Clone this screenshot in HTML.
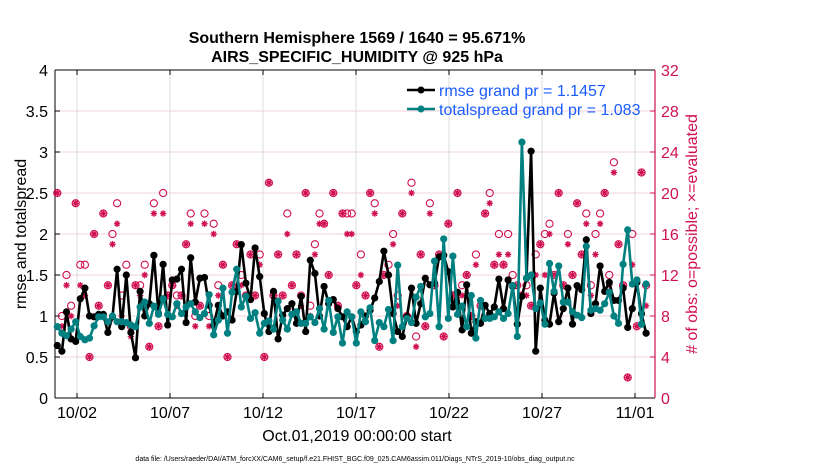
<!DOCTYPE html>
<html><head><meta charset="utf-8"><style>
html,body{margin:0;padding:0;background:#fff;}
svg{display:block;font-family:"Liberation Sans",Arial,sans-serif;}
</style></head><body>
<svg id="chart" width="830" height="470" viewBox="0 0 830 470" xmlns="http://www.w3.org/2000/svg">
<g id="grid"></g>
<g id="axes"></g>
<g id="obs"></g>
<g id="lines"></g>
<text x="357" y="43" text-anchor="middle" font-size="16" font-weight="bold">Southern Hemisphere 1569 / 1640 = 95.671%</text>
<text x="357" y="62" text-anchor="middle" font-size="16" font-weight="bold">AIRS_SPECIFIC_HUMIDITY @ 925 hPa</text>
<text transform="translate(26,234) rotate(-90)" text-anchor="middle" font-size="16">rmse and totalspread</text>
<text transform="translate(697,234) rotate(-90)" text-anchor="middle" font-size="16" fill="#d0104f"># of obs: o=possible; ×=evaluated</text>
<text x="357" y="441" text-anchor="middle" font-size="16">Oct.01,2019 00:00:00 start</text>
<text x="355" y="461" text-anchor="middle" font-size="7">data file: /Users/raeder/DAI/ATM_forcXX/CAM6_setup/f.e21.FHIST_BGC.f09_025.CAM6assim.011/Diags_NTrS_2019-10/obs_diag_output.nc</text>
<g>
 <g>
  <line x1="407" y1="90" x2="435" y2="90" stroke="#000" stroke-width="2.5"/>
  <circle cx="421" cy="90" r="3.5" fill="#000"/>
  <text x="439" y="96" font-size="16" fill="#1a5cff">rmse grand pr = 1.1457</text>
 </g>
 <g>
  <line x1="407" y1="109" x2="435" y2="109" stroke="#008080" stroke-width="2.5"/>
  <circle cx="421" cy="109" r="3.5" fill="#008080"/>
  <text x="439" y="115" font-size="16" fill="#1a5cff">totalspread grand pr = 1.083</text>
 </g>
</g>
</svg>
<script>
const rmse = [0.64,0.57,1.05,0.72,0.69,1.21,1.34,1.00,0.99,1.02,1.02,0.80,0.99,1.57,0.87,1.50,0.80,0.49,1.30,1.00,1.15,1.74,1.03,1.63,0.89,1.44,1.45,1.57,0.92,1.71,1.17,1.46,
1.47,1.13,0.89,1.13,1.00,1.05,0.95,1.30,1.87,1.40,1.20,1.83,1.48,1.03,0.81,1.30,0.72,1.01,1.09,1.15,0.91,1.24,0.81,1.68,1.52,1.00,1.36,1.15,1.20,1.09,0.99,0.87,
0.99,0.81,0.89,1.00,1.07,1.22,1.42,1.79,1.50,1.03,0.81,0.75,0.99,1.34,0.91,1.15,1.46,1.38,1.40,1.72,1.74,1.54,1.11,1.29,0.83,1.38,0.79,0.93,0.91,1.13,1.03,1.11,1.45,
1.09,1.44,1.36,0.90,1.24,1.46,3.01,0.57,1.34,0.95,0.90,1.28,0.93,1.09,1.34,0.90,1.37,1.32,1.93,1.03,1.15,1.61,1.30,1.41,1.19,1.19,1.34,0.86,1.09,1.41,1.03,0.79];
const spread = [0.87,0.79,0.76,0.84,0.93,0.75,0.71,0.73,0.88,0.99,0.99,0.93,1.00,0.93,0.93,0.92,0.89,0.87,1.11,1.17,0.91,1.12,1.02,1.21,1.02,0.99,1.15,1.03,1.11,1.15,1.05,0.98,
1.03,1.26,0.77,0.95,1.34,0.79,1.29,1.57,1.11,1.24,0.97,1.04,0.79,0.91,0.94,0.84,1.18,0.95,0.84,1.02,1.05,0.91,0.91,0.99,0.92,1.09,0.84,1.19,0.80,0.99,0.67,1.05,
0.99,0.67,1.05,0.93,1.10,0.70,0.92,0.87,1.08,0.70,1.62,0.87,0.97,0.92,1.23,1.36,0.99,1.03,1.67,0.87,1.94,0.97,1.73,1.02,1.12,0.87,1.25,0.73,1.19,0.97,0.97,0.99,1.05,
0.97,1.03,1.37,0.75,3.12,1.46,1.50,1.09,1.16,0.90,1.64,1.30,1.61,1.17,1.17,1.05,1.01,0.98,1.85,1.07,1.09,1.07,1.15,1.29,1.00,0.91,1.63,2.05,1.39,1.44,0.90,1.39];
const nPossible = [20,8,12,9,19,13,13,4,16,9,18,11,16,19,10,13,7,11,11,13,5,19,7,20,10,11,10,10,15,18,8,9,
18,8,17,11,13,4,11,15,12,10,14,10,14,4,21,10,14,10,18,11,14,10,20,9,15,18,17,12,20,9,18,18,
18,11,14,10,20,19,5,12,13,16,10,18,8,21,6,14,7,19,11,14,6,17,10,20,11,12,8,14,9,18,20,13,16,
13,16,12,11,10,11,9,14,15,16,17,12,20,11,16,12,19,14,18,11,16,18,20,12,23,15,11,2,16,7,22,11];
const nEvaluated = [20,7,11,8,19,11,10,4,16,9,18,11,15,17,8,12,6,11,10,12,5,18,7,18,10,11,9,10,15,17,7,9,
17,7,16,10,13,4,11,15,11,10,14,10,13,4,21,10,14,10,16,11,14,9,20,8,14,17,17,12,20,9,18,16,
16,11,12,10,20,18,5,12,12,15,9,18,8,20,5,14,7,18,11,14,6,17,10,20,10,12,8,13,9,18,19,13,14,
13,14,11,11,10,10,9,12,15,12,16,12,20,11,15,12,19,14,17,10,14,17,20,11,22,15,11,2,13,7,22,9];
const yTicks = [0,0.5,1,1.5,2,2.5,3,3.5,4];
const yTickLabels = ["0","0.5","1","1.5","2","2.5","3","3.5","4"];
const y2Ticks = [0,4,8,12,16,20,24,28,32];
const xTickDays = [1,6,11,16,21,26,31];
const xTickLabels = ["10/02","10/07","10/12","10/17","10/22","10/27","11/01"];

const NS="http://www.w3.org/2000/svg";
const L=55,R=655,T=70,B=398;
const dayPx=18.6, day0X=58.4;
function xDay(d){return day0X+d*dayPx;}
function xIdx(i){return 57.3+i*4.6;}
function yVal(v){return B-(v/4)*(B-T);}
function yCount(c){return B-(c/32)*(B-T);}
function mk(tag,attrs,parent){const e=document.createElementNS(NS,tag);for(const k in attrs)e.setAttribute(k,attrs[k]);parent.appendChild(e);return e;}
const grid=document.getElementById('grid'),axes=document.getElementById('axes'),obs=document.getElementById('obs'),lines=document.getElementById('lines');

yTicks.forEach((v,i)=>{
 if(v>0&&v<4){const g=mk('line',{x1:L,x2:R,y1:yVal(v),y2:yVal(v),stroke:'#f2d3de','stroke-width':1},grid);
 
 }
 const t=mk('text',{x:L-7,y:yVal(v)+6,'text-anchor':'end','font-size':16},axes);t.textContent=yTickLabels[i];
 
 
 mk('line',{x1:L,x2:L+5,y1:yVal(v),y2:yVal(v),stroke:'#000'},axes);
});
xTickDays.forEach((d,i)=>{
 const x=xDay(d);
 const g=mk('line',{x1:x,x2:x,y1:T,y2:B,stroke:'#dcdcdc','stroke-width':1},grid);
 
 
 mk('line',{x1:x,x2:x,y1:B,y2:B-5,stroke:'#000'},axes);
 mk('line',{x1:x,x2:x,y1:T,y2:T+5,stroke:'#000'},axes);
 const t=mk('text',{x:x,y:B+20,'text-anchor':'middle','font-size':16},axes);t.textContent=xTickLabels[i];
 
 
});
y2Ticks.forEach(c=>{
 mk('line',{x1:R,x2:R-5,y1:yCount(c),y2:yCount(c),stroke:'#d0104f'},axes);
 const t=mk('text',{x:R+6,y:yCount(c)+6,'font-size':16,fill:'#d0104f'},axes);t.textContent=c;
 
 
});
mk('line',{x1:L,x2:R,y1:B,y2:B,stroke:'#000','stroke-width':1},axes);
mk('line',{x1:L,x2:R,y1:T,y2:T,stroke:'#000','stroke-width':1},axes);
mk('line',{x1:L,x2:L,y1:T,y2:B,stroke:'#000','stroke-width':1},axes);
mk('line',{x1:R,x2:R,y1:T,y2:B,stroke:'#d0104f','stroke-width':1.2},axes);

const MC='#d0104f';
nPossible.forEach((c,i)=>{
 const x=xIdx(i),y=yCount(c);
 const o=mk('circle',{cx:x,cy:y,r:3.6,fill:'none',stroke:MC,'stroke-width':1.1},obs);
 
 
});
nEvaluated.forEach((c,i)=>{
 const x=xIdx(i),y=yCount(c),s=3.2;
 const p=mk('path',{d:`M${x-s} ${y}H${x+s}M${x} ${y-s}V${y+s}M${x-s*0.7} ${y-s*0.7}L${x+s*0.7} ${y+s*0.7}M${x-s*0.7} ${y+s*0.7}L${x+s*0.7} ${y-s*0.7}`,stroke:MC,'stroke-width':1.3,fill:'none'},obs);
 
 
});
function series(vals,color,name){
 const pts=vals.map((v,i)=>xIdx(i).toFixed(1)+','+yVal(v).toFixed(1)).join(' ');
 const pl=mk('polyline',{points:pts,fill:'none',stroke:color,'stroke-width':2.6,'stroke-linejoin':'round'},lines);
 
 
 vals.forEach((v,i)=>{
  const c=mk('circle',{cx:xIdx(i),cy:yVal(v),r:3.6,fill:color},lines);
  
  
 });
}
series(rmse,'#000','rmse');
series(spread,'#008080','totalspread');
</script>
</body></html>
